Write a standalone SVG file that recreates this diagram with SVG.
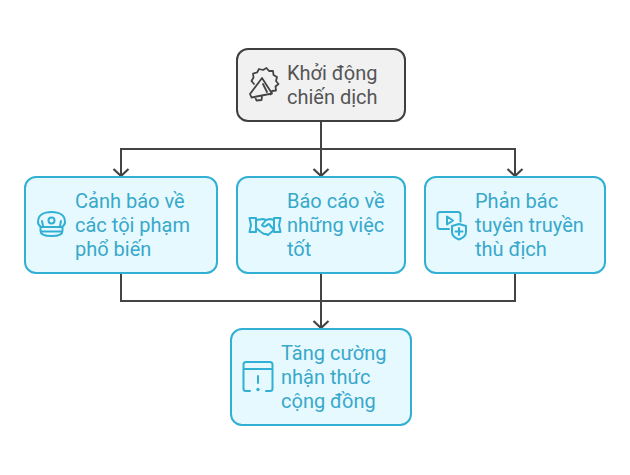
<svg xmlns="http://www.w3.org/2000/svg" width="630" height="475" viewBox="0 0 630 475">
<style>
.box{fill:#e6f9fe;stroke:#32b0d4;stroke-width:2}
.start{fill:#f1f1f1;stroke:#3f3f3f;stroke-width:2}
text{font-family:Roboto,"Liberation Sans",sans-serif;font-size:20px}
.blue{fill:#38a8cb}
.dark{fill:#555}
.ib{fill:none;stroke:#32b0d4;stroke-width:2;stroke-linecap:round;stroke-linejoin:round}
.id{fill:none;stroke:#444;stroke-width:1.8;stroke-linecap:round;stroke-linejoin:round}
.wire{fill:none;stroke:#444;stroke-width:2}
</style>
<defs>
<marker id="arrow" markerUnits="userSpaceOnUse" markerWidth="18" markerHeight="18" refX="14" refY="9" orient="auto">
<path d="M7 1.500L14 9L7 16.500" fill="none" stroke="#444" stroke-width="2.200"/>
</marker>
</defs>
<rect width="630" height="475" fill="#fff"/>
<g id="connectors">
<path class="wire" d="M321 121V176" marker-end="url(#arrow)"/>
<path class="wire" d="M321 149H121V176" marker-end="url(#arrow)"/>
<path class="wire" d="M321 149H515V176" marker-end="url(#arrow)"/>
<path class="wire" d="M121 273V301H321"/>
<path class="wire" d="M515 273V301H321"/>
<path class="wire" d="M321 273V328" marker-end="url(#arrow)"/>
</g>
<g id="node-start">
<rect class="start" x="237" y="49" width="168" height="72" rx="11"/>
<path class="id" d="M254 84l-2.500-3 2-3.500-.5-4 4-1 2-3.500 4 1 3.500-2 2.500 3 4 0 .5 4 3.500 2-1 4 2.500 3-3 2.500 .5 4-4 .5-1.500 3.500"/>
<path class="id" d="M262 78L250 94l1.500 3.500L272 93.500zM255 97l1.500 3.500 5-.5 .5-3.500M263 84l4 8"/>
<text class="dark" x="287" y="80">Khởi động</text>
<text class="dark" x="287" y="104">chiến dịch</text>
</g>
<g id="node-warn">
<rect class="box" x="25" y="177" width="192" height="96" rx="11"/>
<path class="ib" d="M38 222c0-7 6-10 13.500-10s13.500 3 13.500 10c0 3-1.500 4-3 5h-21c-1.500-1-3-2-3-5zM40.500 227v4c0 3 4 5 11 5s11-2 11-5v-4M41 231.500h21"/>
<circle class="ib" cx="51.500" cy="220.500" r="3"/>
<path class="ib" d="M42 221l1 5M61 221l-1 5"/>
<text class="blue" x="75" y="208">Cảnh báo về</text>
<text class="blue" x="75" y="232">các tội phạm</text>
<text class="blue" x="75" y="256">phổ biến</text>
</g>
<g id="node-report">
<rect class="box" x="237" y="177" width="168" height="96" rx="11"/>
<path class="ib" d="M256 218h-6.500l1.500 7-1.500 7h6.500zM274 218h6.500l-1.500 7 1.500 7h-6.500zM256 220l7-1 3 1-4 5c1 2 4 2 5 0l2-1 5 6-6 5-2-1-2 0-3-2-5-4M274 220l-4-1-4 1"/>
<text class="blue" x="287" y="208">Báo cáo về</text>
<text class="blue" x="287" y="232">những việc</text>
<text class="blue" x="287" y="256">tốt</text>
</g>
<g id="node-counter">
<rect class="box" x="425" y="177" width="180" height="96" rx="11"/>
<path class="ib" d="M449 229h-9c-1.500 0-2.500-1-2.500-2.500v-12c0-1.500 1-2.500 2.500-2.500h18c1.500 0 2.500 1 2.500 2.500v7M447 216.500l6 4-6 4z"/>
<path class="ib" d="M452 226l7-2 7 2v6c0 4-3 6-7 7.500-4-1.500-7-3.500-7-7.500zM459 228v7M455.500 231.500h7"/>
<text class="blue" x="475" y="208">Phản bác</text>
<text class="blue" x="475" y="232">tuyên truyền</text>
<text class="blue" x="475" y="256">thù địch</text>
</g>
<g id="node-result">
<rect class="box" x="231" y="329" width="180" height="96" rx="11"/>
<path class="ib" d="M250 391h-4c-1.500 0-2.500-1-2.500-2.500v-24c0-1.500 1-2.500 2.500-2.500h24c1.500 0 2.500 1 2.500 2.500v24c0 1.500-1 2.500-2.500 2.500h-4M244 369h28M258 376v7"/>
<circle cx="258" cy="389.500" r="1.700" fill="#32b0d4"/>
<text class="blue" x="281" y="360">Tăng cường</text>
<text class="blue" x="281" y="384">nhận thức</text>
<text class="blue" x="281" y="408">cộng đồng</text>
</g>
</svg>
